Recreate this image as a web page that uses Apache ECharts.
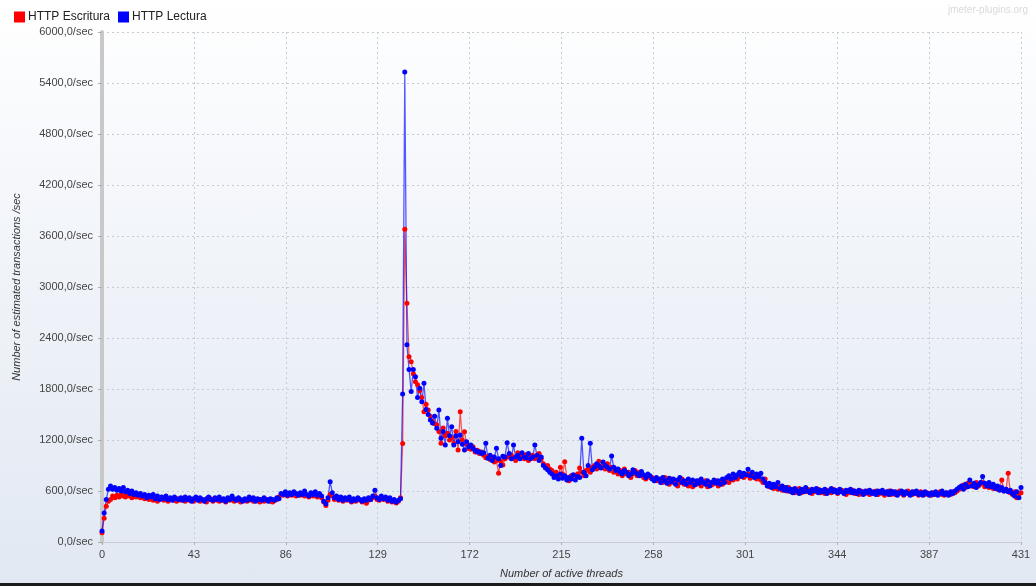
<!DOCTYPE html>
<html>
<head>
<meta charset="utf-8">
<script src="https://cdn.jsdelivr.net/npm/echarts@6/dist/echarts.min.js"></script>
<style>
html,body{margin:0;padding:0;}
#wrap{position:relative;width:1036px;height:586px;background:linear-gradient(to bottom,#ffffff 0%,#f2f5fa 40%,#e1e8f2 100%);overflow:hidden;}
#chart{width:1036px;height:586px;}
#bb{position:absolute;left:0;bottom:0;width:1036px;height:3px;background:#1b1b1b;}
</style>
</head>
<body>
<div id="wrap"><div id="chart"></div><div id="bb"></div></div>
<script>
const seriesNames = ['HTTP Escritura', 'HTTP Lectura'];
const xTickStep = 43.1;
const xMax = 431;
const yMax = 6000;
const yStep = 600;

// Transactions/sec per active thread count (index = threads)
const escritura = [
110,280,420,480,500,540,520,550,530,560,540,530,560,540,520,550,530,560,520,540,
510,530,500,520,490,510,480,500,520,490,500,480,510,500,490,480,510,490,500,480,
510,490,500,480,500,510,480,500,490,470,500,510,480,500,490,480,500,490,470,500,
490,510,480,500,490,470,490,500,480,490,510,480,500,490,470,500,480,490,500,480,
470,490,500,530,560,550,570,540,560,550,570,540,560,550,570,540,550,530,560,540,
550,530,560,520,470,430,490,560,540,500,520,490,510,480,500,490,510,470,500,480,
510,490,470,500,455,490,500,520,540,500,490,520,500,510,480,500,470,490,460,480,
520,1160,3680,2810,2180,2120,1980,1886,1850,1780,1700,1533,1620,1553,1480,1420,1390,1380,1300,1161,
1340,1250,1280,1200,1230,1160,1300,1082,1533,1200,1298,1150,1100,1090,1120,1060,1080,1040,1060,1020,
990,1010,970,1000,940,960,808,950,906,980,1000,1000,1020,990,960,1050,1000,1010,980,1030,
960,1000,1020,980,1000,1040,980,920,880,900,860,840,800,820,760,880,800,945,760,720,
780,750,760,800,870,820,780,840,860,820,880,900,860,950,880,900,860,920,840,880,
820,860,800,840,780,860,800,820,760,800,840,780,820,800,760,740,780,760,760,740,
720,720,740,700,760,720,680,740,700,720,660,700,740,680,710,660,690,650,700,680,
720,660,690,720,650,700,670,690,720,660,700,680,720,740,700,760,730,780,740,770,
800,760,780,800,750,790,770,740,780,730,700,740,680,650,670,630,660,620,650,610,
640,600,640,590,620,580,610,630,580,610,590,620,600,570,610,590,620,580,600,570,
610,590,580,620,600,570,590,610,580,560,600,580,610,570,590,560,600,580,570,600,
560,590,570,600,560,590,570,550,580,600,560,590,560,580,600,570,550,580,600,570,
560,590,570,550,590,570,560,580,570,550,580,560,570,590,560,550,580,570,560,590,
580,600,620,640,670,640,690,660,680,650,700,660,680,700,650,680,640,670,630,650,
620,640,730,600,620,808,580,560,590,520,560,580
];
const lectura = [
130,340,500,620,660,620,640,610,630,600,640,590,610,570,600,560,580,550,570,540,
560,520,550,530,560,510,540,500,530,510,540,500,520,490,530,510,500,520,490,530,
500,520,480,510,530,490,520,500,480,510,530,500,490,520,500,530,490,510,480,520,
500,540,510,490,520,500,480,510,490,530,500,520,480,510,500,490,520,500,480,510,
500,490,520,510,570,560,590,550,580,560,590,570,550,580,560,600,560,540,580,560,
590,550,570,540,480,450,520,710,580,520,540,500,530,490,520,500,530,480,510,490,
520,500,480,510,490,520,500,540,610,520,500,540,510,530,490,520,480,500,470,490,
510,1740,5530,2320,2030,1770,2030,1945,1700,1808,1650,1867,1560,1500,1435,1400,1480,1337,1553,1220,
1300,1141,1455,1250,1357,1141,1250,1180,1260,1150,1082,1180,1120,1141,1100,1080,1060,1063,1040,1050,
1161,985,1020,960,1000,1102,980,900,1010,1000,1168,1040,980,1141,1000,1020,980,1050,1000,990,
1040,980,1000,1141,1020,960,1000,900,870,850,820,800,760,780,740,800,750,780,730,760,
740,790,730,770,760,1220,820,780,900,1161,850,880,920,900,870,940,900,880,860,1012,
880,840,860,820,800,840,820,780,800,850,820,800,780,830,790,760,800,780,740,720,
760,740,700,760,720,690,750,710,740,680,730,760,700,720,680,740,700,730,670,720,
690,740,700,680,720,660,700,730,690,720,680,740,700,760,780,740,800,760,790,820,
770,810,790,855,780,820,760,800,770,810,740,700,660,690,640,680,650,700,630,660,
610,640,600,620,580,630,600,570,620,590,640,600,580,620,600,630,580,610,590,620,
570,600,630,590,610,580,620,590,570,610,590,620,580,600,570,610,590,560,600,580,
610,570,590,560,600,580,610,570,590,560,600,570,590,550,580,600,560,590,570,550,
590,570,600,560,580,550,590,570,550,580,560,590,550,570,600,560,580,550,590,570,
600,620,640,660,620,680,650,730,660,690,640,670,700,770,690,660,700,650,680,630,
660,610,640,600,620,590,610,570,540,590,520,640
];

function toPoints(arr){ return arr.map((v,i)=>[i,v]); }

const chart = echarts.init(document.getElementById('chart'), null, {renderer:'canvas'});
const FONT = 'Liberation Sans, Arial, sans-serif';
chart.setOption({
  backgroundColor: 'transparent',
  animation: false,
  legend: {
    left: 9, top: 6, itemGap: 8,
    icon: 'rect', itemWidth: 11, itemHeight: 11,
    textStyle: {fontFamily: FONT, fontSize: 12, color: '#222', padding:[0,0,0,-2]},
    data: seriesNames
  },
  graphic: [{
    type: 'text', right: 8, top: 5,
    style: {text: 'jmeter-plugins.org', fill: '#dadada', font: '10px ' + FONT}
  }],
  grid: {left: 102, right: 15, top: 32, bottom: 44, containLabel: false},
  xAxis: {
    type: 'value', min: 0, max: xMax, interval: xTickStep,
    name: 'Number of active threads', nameLocation: 'middle', nameGap: 26,
    nameTextStyle: {fontFamily: FONT, fontSize: 11, fontStyle: 'italic', color: '#333'},
    axisLine: {show: true, lineStyle: {color: '#c8ccd2', width: 1}},
    axisTick: {show: true, length: 3, lineStyle: {color: '#b0b0b0'}},
    axisLabel: {fontFamily: FONT, fontSize: 11, color: '#444', margin: 7, showMaxLabel: true,
      formatter: v => String(Math.floor(v + 1e-6))},
    splitLine: {show: true, lineStyle: {color: '#c8ccd2', type: [2, 3], width: 1}}
  },
  yAxis: {
    type: 'value', min: 0, max: yMax, interval: yStep,
    name: 'Number of estimated transactions /sec', nameLocation: 'middle', nameGap: 80, nameRotate: 90,
    nameTextStyle: {fontFamily: FONT, fontSize: 11, fontStyle: 'italic', color: '#333'},
    axisLine: {show: true, lineStyle: {color: '#c8c8c8', width: 4}},
    axisTick: {show: true, length: 4, lineStyle: {color: '#b0b0b0'}},
    axisLabel: {fontFamily: FONT, fontSize: 11, color: '#444', margin: 9,
      formatter: v => v.toFixed(1).replace('.', ',') + '/sec'},
    splitLine: {show: true, lineStyle: {color: '#c8ccd2', type: [2, 3], width: 1}}
  },
  series: [
    {name: seriesNames[0], type: 'line', data: toPoints(escritura), color: '#ff0000',
     symbol: 'circle', symbolSize: 5, showSymbol: true,
     lineStyle: {width: 1.3, color: 'rgba(255,0,0,0.65)'}, itemStyle: {color: '#ff0000'}},
    {name: seriesNames[1], type: 'line', data: toPoints(lectura), color: '#0000ff',
     symbol: 'circle', symbolSize: 5, showSymbol: true,
     lineStyle: {width: 1.3, color: 'rgba(0,0,255,0.65)'}, itemStyle: {color: '#0000ff'}}
  ]
});
</script>
</body>
</html>
